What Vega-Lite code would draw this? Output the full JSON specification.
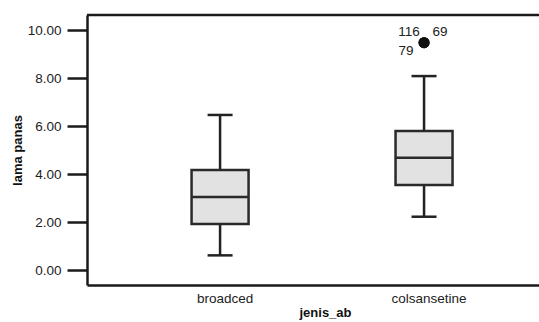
{
  "$schema": "https://vega.github.io/schema/vega-lite/v6.json",
  "width": 452,
  "height": 270,
  "autosize": {"type": "none"},
  "padding": {"left": 87, "top": 15, "right": 0, "bottom": 37},
  "background": "white",
  "config": {
    "font": "Liberation Sans",
    "view": {"stroke": null},
    "axis": {"grid": false}
  },
  "datasets": {
    "stats": [
      {"jenis_ab": "broadced", "lower": 0.61, "q1": 1.92, "median": 3.04, "q3": 4.17, "upper": 6.46},
      {"jenis_ab": "colsansetine", "lower": 2.22, "q1": 3.54, "median": 4.68, "q3": 5.79, "upper": 8.08}
    ],
    "outliers": [
      {"jenis_ab": "colsansetine", "lama_panas": 9.47, "case": "116"},
      {"jenis_ab": "colsansetine", "lama_panas": 9.47, "case": "69"},
      {"jenis_ab": "colsansetine", "lama_panas": 9.47, "case": "79"}
    ],
    "frame": [
      {"top": 10.625}
    ]
  },
  "encoding": {
    "x": {
      "field": "jenis_ab",
      "type": "nominal",
      "scale": {"type": "band", "domain": ["broadced", "colsansetine"], "paddingInner": 0.5, "paddingOuter": 0.358, "align": 0.562},
      "axis": {
        "title": "jenis_ab",
        "labelAngle": 0,
        "ticks": false,
        "tickSize": 0,
        "domainColor": "#1a1a1a",
        "domainWidth": 2.5,
        "labelFontSize": 13.5,
        "labelColor": "#222222",
        "labelPadding": 6,
        "labelOffset": 5,
        "titleFontSize": 13,
        "titleFontWeight": "bold",
        "titleColor": "#111111",
        "titlePadding": 2,
        "titleX": 238
      }
    }
  },
  "layer": [
    {
      "data": {"name": "stats"},
      "mark": {"type": "rule", "color": "#222222", "strokeWidth": 2.5},
      "encoding": {
        "y": {
          "field": "lower",
          "type": "quantitative",
          "scale": {"domain": [-0.625, 10.625], "nice": false, "zero": false},
          "axis": {
            "title": "lama panas",
            "values": [0, 2, 4, 6, 8, 10],
            "format": ".2f",
            "tickSize": 20,
            "tickWidth": 2.5,
            "tickColor": "#1a1a1a",
            "domainColor": "#1a1a1a",
            "domainWidth": 2.5,
            "labelFontSize": 13.5,
            "labelColor": "#222222",
            "labelPadding": 6,
            "titleFontSize": 13,
            "titleFontWeight": "bold",
            "titleColor": "#111111",
            "titlePadding": 3
          }
        },
        "y2": {"field": "upper"}
      }
    },
    {
      "data": {"name": "stats"},
      "mark": {"type": "tick", "color": "#222222", "size": 25, "thickness": 2.5, "opacity": 1},
      "encoding": {"y": {"field": "lower", "type": "quantitative"}}
    },
    {
      "data": {"name": "stats"},
      "mark": {"type": "tick", "color": "#222222", "size": 25, "thickness": 2.5, "opacity": 1},
      "encoding": {"y": {"field": "upper", "type": "quantitative"}}
    },
    {
      "data": {"name": "stats"},
      "mark": {"type": "bar", "fill": "#e2e2e2", "stroke": "#2a2a2a", "strokeWidth": 2.5, "size": 57},
      "encoding": {
        "y": {"field": "q1", "type": "quantitative"},
        "y2": {"field": "q3"}
      }
    },
    {
      "data": {"name": "stats"},
      "mark": {"type": "tick", "color": "#2a2a2a", "size": 57, "thickness": 2.5, "opacity": 1},
      "encoding": {"y": {"field": "median", "type": "quantitative"}}
    },
    {
      "data": {"name": "outliers"},
      "mark": {"type": "point", "filled": true, "color": "#111111", "opacity": 1, "size": 120},
      "encoding": {"y": {"field": "lama_panas", "type": "quantitative"}}
    },
    {
      "data": {"name": "outliers"},
      "transform": [{"filter": "datum.case === '116'"}],
      "mark": {"type": "text", "fontSize": 13.5, "color": "#222222", "dx": -15, "dy": -11},
      "encoding": {"y": {"field": "lama_panas", "type": "quantitative"}, "text": {"field": "case"}}
    },
    {
      "data": {"name": "outliers"},
      "transform": [{"filter": "datum.case === '69'"}],
      "mark": {"type": "text", "fontSize": 13.5, "color": "#222222", "dx": 16, "dy": -11},
      "encoding": {"y": {"field": "lama_panas", "type": "quantitative"}, "text": {"field": "case"}}
    },
    {
      "data": {"name": "outliers"},
      "transform": [{"filter": "datum.case === '79'"}],
      "mark": {"type": "text", "fontSize": 13.5, "color": "#222222", "dx": -18, "dy": 8.5},
      "encoding": {"y": {"field": "lama_panas", "type": "quantitative"}, "text": {"field": "case"}}
    },
    {
      "data": {"name": "frame"},
      "mark": {"type": "rule", "color": "#1a1a1a", "strokeWidth": 2.5},
      "encoding": {"y": {"field": "top", "type": "quantitative"}, "x": null}
    }
  ]
}
